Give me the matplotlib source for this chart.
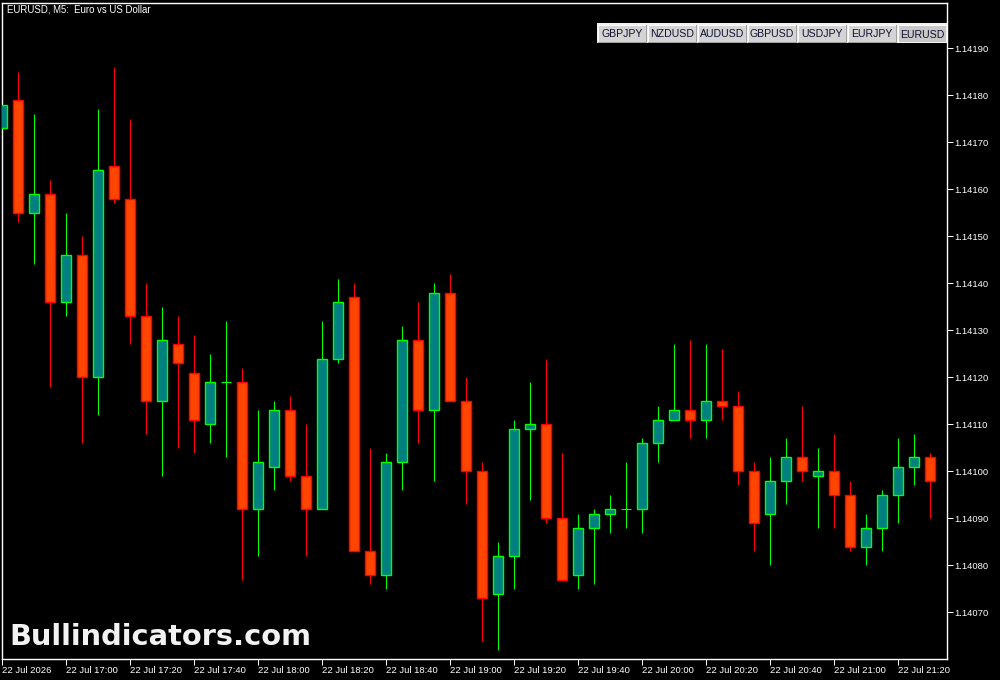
import numpy as np
import matplotlib
matplotlib.use('Agg')
import matplotlib.pyplot as plt
from matplotlib.patches import Rectangle

# EURUSD M5 candles, 22 Jul 16:40 .. 21:30 (prices in 1e-5 units)
opens = [114173, 114179, 114155, 114159, 114136, 114146, 114120, 114165, 114158, 114133,
         114115, 114127, 114121, 114110, 114119, 114119, 114092, 114101, 114113, 114099,
         114092, 114124, 114137, 114083, 114078, 114102, 114128, 114113, 114138, 114115,
         114100, 114074, 114082, 114109, 114110, 114090, 114078, 114088, 114091, 114092,
         114092, 114106, 114111, 114113, 114111, 114115, 114114, 114100, 114091, 114098,
         114103, 114099, 114100, 114095, 114084, 114088, 114095, 114101, 114103]
highs = [114178, 114185, 114176, 114162, 114155, 114150, 114177, 114186, 114175, 114140,
         114135, 114133, 114129, 114125, 114132, 114122, 114113, 114115, 114116, 114110,
         114132, 114141, 114140, 114105, 114104, 114131, 114136, 114140, 114142, 114120,
         114102, 114085, 114111, 114119, 114124, 114104, 114091, 114092, 114095, 114102,
         114107, 114114, 114127, 114128, 114127, 114126, 114117, 114102, 114103, 114107,
         114114, 114105, 114108, 114098, 114091, 114096, 114107, 114108, 114104]
lows = [114172, 114153, 114144, 114118, 114133, 114106, 114112, 114157, 114127, 114108,
        114099, 114105, 114104, 114106, 114103, 114077, 114082, 114096, 114098, 114082,
        114092, 114123, 114083, 114076, 114075, 114096, 114106, 114098, 114115, 114093,
        114064, 114062, 114075, 114094, 114089, 114077, 114075, 114076, 114087, 114088,
        114087, 114102, 114111, 114107, 114107, 114111, 114097, 114083, 114080, 114093,
        114098, 114088, 114088, 114083, 114080, 114083, 114089, 114097, 114090]
closes = [114178, 114155, 114159, 114136, 114146, 114120, 114164, 114158, 114133, 114115,
          114128, 114123, 114111, 114119, 114119, 114092, 114102, 114113, 114099, 114092,
          114124, 114136, 114083, 114078, 114102, 114128, 114113, 114138, 114115, 114100,
          114073, 114082, 114109, 114110, 114090, 114077, 114088, 114091, 114092, 114092,
          114106, 114111, 114113, 114111, 114115, 114114, 114100, 114089, 114098, 114103,
          114100, 114100, 114095, 114084, 114088, 114095, 114101, 114103, 114098]

time_labels = ['22 Jul 2026', '22 Jul 17:00', '22 Jul 17:20', '22 Jul 17:40', '22 Jul 18:00',
               '22 Jul 18:20', '22 Jul 18:40', '22 Jul 19:00', '22 Jul 19:20', '22 Jul 19:40',
               '22 Jul 20:00', '22 Jul 20:20', '22 Jul 20:40', '22 Jul 21:00', '22 Jul 21:20']
price_ticks = [1.14070, 1.14080, 1.14090, 1.14100, 1.14110, 1.14120, 1.14130,
               1.14140, 1.14150, 1.14160, 1.14170, 1.14180, 1.14190]
symbols = ['GBPJPY', 'NZDUSD', 'AUDUSD', 'GBPUSD', 'USDJPY', 'EURJPY', 'EURUSD']

o = np.array(opens) / 1e5
h = np.array(highs) / 1e5
l = np.array(lows) / 1e5
c = np.array(closes) / 1e5
x = np.arange(len(o))

W, H = 1000, 680
fig = plt.figure(figsize=(W / 100, H / 100), dpi=100, facecolor='black')
ax = fig.add_axes([2.3 / W, (H - 659) / H, (946.5 - 2.3) / W, (659 - 3) / H])
ax.set_facecolor('black')

bull_fill, bull_edge = '#008080', '#00ff00'
bear_fill, bear_edge = '#ff4500', '#ff0000'
px = 0.72
body_w = 0.6

for i in range(len(o)):
    up = c[i] >= o[i]
    edge = bull_edge if up else bear_edge
    fill = bull_fill if up else bear_fill
    ax.vlines(x[i], l[i], h[i], color=edge, linewidth=1.1 * px, zorder=2)
    if abs(c[i] - o[i]) < 1e-9:
        ax.hlines(o[i], x[i] - body_w / 2, x[i] + body_w / 2, color=edge, linewidth=1.1 * px, zorder=3)
    else:
        ax.bar(x[i], c[i] - o[i], bottom=o[i], width=body_w, color=fill,
               edgecolor=edge, linewidth=1.4 * px, zorder=3)

ax.set_xlim(0, 59.04)
ax.set_ylim(1.140601, 1.141996)

for s in ax.spines.values():
    s.set_color('white')
    s.set_linewidth(1.4 * px)

ax.yaxis.tick_right()
ax.set_yticks(price_ticks)
ax.set_yticklabels(['%.5f' % p for p in price_ticks])
ax.set_xticks(x[::4][:len(time_labels)])
ax.set_xticklabels(time_labels, ha='left')
ax.tick_params(axis='both', colors='white', length=4, width=1.0 * px, labelsize=6.8,
               labelfontfamily='Liberation Sans')
ax.tick_params(axis='x', pad=1)
ax.tick_params(axis='y', pad=1.5)

# overlay in pixel coordinates for title, tabs and watermark
ov = fig.add_axes([0, 0, 1, 1], facecolor='none')
ov.set_xlim(0, W)
ov.set_ylim(H, 0)
ov.axis('off')

ov.text(7, 10, 'EURUSD, M5:  Euro vs US Dollar', color='white', fontsize=6.9,
        family='Liberation Sans', va='center', ha='left')

ov.add_patch(Rectangle((597, 23), 349.5, 20, facecolor='#f0f0f0', edgecolor='none'))
for k, sym in enumerate(symbols):
    x0 = 598 + 50 * k
    sel = sym == 'EURUSD'
    face = '#c8c8c8' if sel else '#d4d4d4'
    ov.add_patch(Rectangle((x0, 25), 47.5, 17, facecolor=face, edgecolor='none'))
    ov.plot([x0, x0, x0 + 47.5], [42, 25, 25], color='white', linewidth=1.0 * px)
    if not sel:
        ov.plot([x0 + 47.5, x0 + 47.5, x0], [25, 42, 42], color='#a0a0a0', linewidth=1.0 * px)
    ov.text(x0 + 24, 33.8 if not sel else 35, sym, color='#101030', fontsize=7.6,
            family='Liberation Sans', ha='center', va='center')

ov.text(9, 637, 'Bullindicators.com', color='#f2f2f2', fontsize=20.8,
        family='DejaVu Sans', fontweight='bold', ha='left', va='center')

fig.savefig('out.png', dpi=100, facecolor='black')
